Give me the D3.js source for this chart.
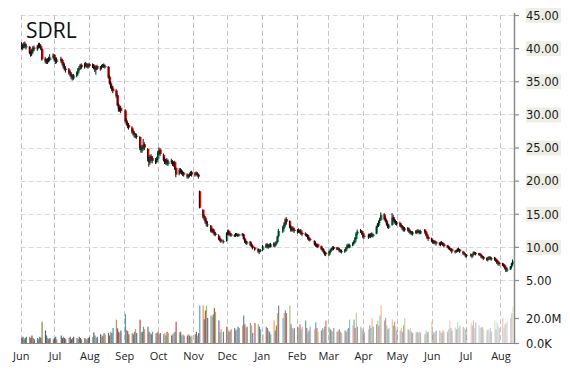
<!DOCTYPE html>
<html><head><meta charset="utf-8">
<script src="https://cdn.jsdelivr.net/npm/d3@7"></script>
<style>body{margin:0;background:#fff}svg{display:block}</style>
</head><body><svg id="c" width="570" height="370"></svg>
<script>
const ticker = "SDRL";
const firstDay = "2014-06-02", lastDay = "2015-08-12";
const holidays = ["2014-07-04","2014-09-01","2014-11-27","2014-12-25","2015-01-01","2015-01-19","2015-02-16","2015-04-03","2015-05-25","2015-07-03"];
const monthLabels = ["Jun","Jul","Aug","Sep","Oct","Nov","Dec","Jan","Feb","Mar","Apr","May","Jun","Jul","Aug"];
const priceTicks = [5,10,15,20,25,30,35,40,45];
const volumeTicks = [0,20];
const volumeTickLabels = ["0.0K","20.0M"];

// weekly groups of daily values (one inner array per trading week)
const openW = [
[40.4,40.0,40.3,40.7,40.1],[40.2,39.4,39.1,39.5,40.1],[39.8,40.2,40.6,40.3,39.9],[38.4,38.1,37.8,38.4,38.2],
[38.6,39.0,38.3,37.9],[38.4,38.2,37.8,37.3,36.9],[36.8,36.4,36.1,35.8,35.4],[35.8,36.2,36.9,36.9,37.5],
[37.1,37.7,37.5,37.1,37.6],[37.2,37.5,37.1,36.7,37.3],[36.8,37.0,37.3,37.5,37.1],[37.2,35.7,34.8,34.3,33.9],
[33.6,32.9,31.5,30.7,31.0],[30.6,29.1,28.7,28.4],[28.0,27.5,27.2,26.8,26.6],[26.6,25.0,24.5,25.0,25.5],
[24.8,23.3,22.7,23.7,23.4],[23.1,22.8,23.3,24.2,24.7],[23.9,23.2,22.7,23.1,22.5],[23.0,22.9,22.4,22.8,21.9],
[21.0,21.7,21.5,21.3,21.1],[20.9,20.5,20.7,20.9,21.3],[20.8,21.2,21.1,20.9,18.4],[15.6,14.7,14.4,13.9,13.3],
[13.2,12.3,12.7,12.3,12.0],[11.7,11.3,11.1,10.7],[10.9,12.0,12.4,12.0,11.9],[11.6,11.7,12.0,11.6,11.7],
[11.9,11.9,11.3,10.9,10.5],[10.8,10.4,10.2,9.9],[9.7,9.2,9.5,9.5],[10.0,10.4,9.9,10.3,10.0],
[10.5,10.1,10.4,10.7,11.6],[12.3,12.9,13.3,14.2],[13.9,13.1,12.5,12.9,12.6],[12.2,12.6,12.2,12.5,12.1],
[12.0,11.9,11.8,11.4,11.2],[10.9,10.5,10.1,10.4],[10.1,9.8,9.6,9.3,9.1],[8.8,9.2,9.4,9.7,10.0],
[9.6,9.9,9.7,9.5,9.2],[9.3,9.4,9.8,10.3,9.9],[10.2,10.5,10.7,11.2,12.0],[12.5,12.4,12.1,11.7],
[11.4,11.9,11.5,12.0,11.6],[12.0,13.1,13.2,13.9,14.1],[14.9,14.3,14.0,13.5,12.9],[13.3,14.5,14.1,13.9,13.7],
[13.6,13.3,13.1,12.9,12.5],[12.9,12.6,12.4,12.2,11.9],[12.3,12.1,12.5,12.4,12.0],[12.6,12.3,11.9,11.5],
[11.3,11.0,10.6,10.9,10.7],[10.6,10.3,10.7,10.6,10.4],[10.2,10.1,9.9,9.5,9.7],[9.2,9.5,9.3,9.7,9.6],
[9.3,9.1,8.9,8.6],[8.9,8.5,8.8,9.2,9.1],[9.0,9.0,8.8,8.6,8.5],[8.3,8.0,8.2,8.5,8.1],
[8.4,8.2,8.0,7.7,7.6],[7.5,7.4,7.2,6.9,6.4],[6.6,7.0,7.4]];
const highW = [
[40.9,40.7,40.9,41.0,40.6],[40.3,39.6,39.9,40.3,40.4],[40.5,40.8,40.8,40.5,40.0],[38.7,38.4,38.5,38.7,39.1],
[39.2,39.1,38.6,38.6],[38.7,38.4,37.9,37.6,37.2],[37.0,36.6,36.3,36.0,36.1],[36.5,37.0,37.3,37.6,37.7],
[37.8,37.9,37.7,37.7,37.8],[37.7,37.6,37.3,37.4,37.5],[37.3,37.5,37.6,37.7,37.5],[37.3,35.9,35.0,34.5,34.2],
[33.8,33.0,31.7,31.2,31.3],[30.8,29.4,28.9,28.7],[28.2,27.7,27.4,27.1,27.1],[26.7,25.3,25.4,26.3,25.8],
[24.9,23.6,23.9,24.0,23.7],[23.4,23.6,24.5,25.0,24.9],[24.1,23.5,23.3,23.4,23.2],[23.3,23.1,22.9,23.0,22.0],
[21.9,21.9,21.7,21.5,21.3],[21.1,21.0,21.2,21.4,21.5],[21.3,21.4,21.3,21.0,18.5],[15.7,14.9,14.6,14.1,13.8],
[13.3,12.8,12.8,12.5,12.2],[11.9,11.5,11.2,11.1],[12.2,12.6,12.6,12.2,12.1],[11.9,12.1,12.1,11.9,12.0],
[12.1,12.0,11.4,11.1,10.9],[10.9,10.6,10.3,10.0],[9.8,9.6,9.7,10.3],[10.5,10.6,10.4,10.5,10.6],
[10.7,10.7,10.9,11.7,12.7],[13.2,13.7,14.3,14.5],[14.0,13.3,13.0,13.1,12.8],[12.7,12.8,12.6,12.7,12.2],
[12.2,12.0,11.9,11.6,11.4],[11.0,10.7,10.5,10.5],[10.2,9.9,9.7,9.4,9.2],[9.4,9.7,9.9,10.1,10.1],
[10.0,10.0,9.8,9.6,9.6],[9.7,10.0,10.4,10.5,10.5],[10.7,11.0,11.5,12.2,12.6],[12.7,12.5,12.2,11.9],
[12.0,12.0,12.1,12.2,12.0],[13.2,13.6,14.0,14.4,15.2],[15.1,14.6,14.1,13.7,13.4],[15.1,14.8,14.3,14.1,13.9],
[13.8,13.5,13.3,13.1,13.0],[13.0,12.8,12.6,12.4,12.4],[12.5,12.6,12.7,12.5,12.6],[12.7,12.4,12.0,11.6],
[11.4,11.1,11.0,11.0,10.8],[10.7,10.8,10.9,10.7,10.5],[10.3,10.2,10.0,9.8,9.8],[9.5,9.6,9.8,9.9,9.7],
[9.4,9.2,9.0,8.9],[9.0,8.9,9.3,9.3,9.2],[9.1,9.1,8.9,8.7,8.6],[8.4,8.5,8.6,8.6,8.4],
[8.5,8.3,8.1,7.9,7.8],[7.6,7.5,7.3,7.0,6.8],[7.1,7.6,8.1]];
const lowW = [
[39.8,39.7,40.0,40.0,39.8],[39.1,38.7,38.8,39.3,39.6],[39.6,40.0,40.0,39.7,38.1],[37.7,37.6,37.6,37.9,38.0],
[38.4,38.0,37.6,37.7],[37.8,37.4,36.9,36.6,36.3],[36.0,35.7,35.3,35.1,35.2],[35.6,36.0,36.5,36.7,36.8],
[36.9,37.2,37.0,36.9,37.1],[37.0,36.8,36.4,36.0,36.7],[36.6,36.8,37.1,37.0,36.9],[35.4,34.5,33.9,33.5,33.2],
[32.5,31.2,30.4,30.4,30.2],[28.8,28.3,27.9,27.7],[27.1,26.8,26.5,26.4,26.3],[24.6,24.2,24.2,24.8,24.6],
[22.9,22.1,22.4,23.0,22.6],[22.5,22.6,23.1,23.9,23.7],[22.9,22.5,22.4,22.3,22.2],[22.5,22.2,22.1,21.6,20.5],
[20.8,21.1,20.9,20.7,20.6],[20.3,20.3,20.5,20.7,20.6],[20.6,20.8,20.6,20.3,15.8],[14.3,14.0,13.5,13.1,13.0],
[12.2,12.1,12.0,11.7,11.6],[11.0,10.8,10.6,10.5],[10.8,11.8,11.7,11.6,11.5],[11.5,11.5,11.6,11.5,11.6],
[11.6,11.1,10.6,10.4,10.3],[10.1,9.9,9.6,9.4],[9.1,8.9,9.2,9.4],[9.8,9.8,9.7,9.9,9.9],
[10.0,9.9,10.3,10.6,11.4],[12.1,12.7,13.1,13.4],[12.8,12.3,12.3,12.3,12.1],[12.0,12.1,12.0,11.8,11.6],
[11.6,11.5,11.1,10.9,10.8],[10.2,10.0,9.9,9.8],[9.5,9.3,9.0,8.7,8.6],[8.6,9.0,9.3,9.6,9.5],
[9.5,9.5,9.2,9.1,9.0],[9.1,9.3,9.7,9.8,9.8],[10.1,10.4,10.6,11.1,11.8],[12.1,11.8,11.3,11.2],
[11.2,11.4,11.3,11.5,11.4],[11.9,12.9,13.0,13.6,14.0],[14.0,13.7,13.2,12.8,12.7],[13.2,13.8,13.5,13.3,13.2],
[13.0,12.8,12.5,12.3,12.3],[12.3,12.1,11.9,11.8,11.7],[12.0,11.9,12.1,11.9,11.9],[12.0,11.6,11.2,10.9],
[10.7,10.5,10.4,10.4,10.2],[10.2,10.1,10.3,10.1,9.9],[9.8,9.6,9.5,9.3,9.0],[9.0,9.1,9.2,9.3,9.1],
[8.8,8.7,8.4,8.4],[8.5,8.3,8.7,8.8,8.7],[8.7,8.6,8.3,8.2,8.0],[7.9,7.8,8.1,8.0,7.9],
[7.9,7.7,7.4,7.2,7.1],[7.1,6.9,6.6,6.2,6.2],[6.5,6.8,7.2]];
const closeW = [
[40.1,40.4,40.6,40.2,40.3],[39.3,39.0,39.6,40.0,39.9],[40.3,40.5,40.2,39.9,38.3],[38.0,37.9,38.3,38.2,38.6],
[38.9,38.2,37.9,38.3],[38.1,37.7,37.2,36.9,36.7],[36.3,36.0,35.7,35.5,35.9],[36.3,36.8,37.0,37.4,37.1],
[37.6,37.4,37.2,37.5,37.3],[37.4,37.0,36.8,37.2,36.9],[37.1,37.3,37.4,37.2,37.3],[35.6,34.7,34.2,33.8,33.5],
[32.8,31.4,30.8,30.9,30.5],[29.0,28.6,28.3,28.0],[27.4,27.1,26.9,26.7,26.8],[24.9,24.6,25.1,25.4,25.0],
[23.2,22.8,23.6,23.3,23.0],[22.8,23.4,24.3,24.6,24.0],[23.1,22.8,23.0,22.6,22.9],[22.8,22.5,22.7,21.8,20.9],
[21.6,21.4,21.2,21.0,20.9],[20.6,20.8,21.0,21.2,20.9],[21.1,21.0,20.8,20.6,15.9],[14.6,14.3,13.8,13.5,13.4],
[12.4,12.6,12.2,11.9,11.8],[11.2,11.0,10.8,10.9],[12.0,12.3,11.9,11.8,11.7],[11.8,11.9,11.7,11.8,11.9],
[11.8,11.2,10.8,10.6,10.7],[10.3,10.1,9.8,9.6],[9.3,9.4,9.5,10.1],[10.3,10.0,10.2,10.1,10.4],
[10.2,10.5,10.7,11.5,12.4],[13.0,13.4,14.0,13.8],[13.0,12.6,12.8,12.5,12.4],[12.5,12.3,12.4,12.0,11.9],
[11.8,11.7,11.3,11.1,11.0],[10.4,10.2,10.3,10.0],[9.7,9.5,9.2,9.0,8.9],[9.3,9.5,9.8,9.9,9.7],
[9.8,9.6,9.4,9.3,9.4],[9.5,9.9,10.2,10.0,10.3],[10.6,10.8,11.3,12.0,12.3],[12.3,12.0,11.6,11.5],
[11.8,11.6,11.9,11.7,11.9],[13.0,13.4,13.8,14.2,14.8],[14.2,13.9,13.4,13.0,13.2],[14.4,14.0,13.8,13.6,13.5],
[13.2,13.0,12.8,12.6,12.8],[12.5,12.3,12.1,12.0,12.2],[12.2,12.4,12.3,12.1,12.4],[12.2,11.8,11.4,11.2],
[10.9,10.7,10.8,10.6,10.5],[10.4,10.6,10.5,10.3,10.1],[10.0,9.8,9.7,9.6,9.3],[9.4,9.3,9.6,9.5,9.3],
[9.0,8.9,8.7,8.8],[8.6,8.8,9.1,9.0,8.9],[8.9,8.7,8.5,8.4,8.2],[8.1,8.3,8.4,8.2,8.3],
[8.1,7.9,7.6,7.5,7.4],[7.3,7.1,6.8,6.5,6.6],[7.0,7.5,7.8]];
// volume in millions of shares
const volumeW = [
[4,5,3,4,5],[5,4,6,4,3],[4,3,5,4,17],[10,6,4,3,4],
[3,4,5,3],[6,4,5,4,3],[4,5,3,4,5],[4,3,5,4,3],
[4,3,3,4,5],[5,8.5,6,4,5],[7,5,6,8,7],[8,6,9,8,12],
[18.7,11.7,9,8,10],[23,10.4,9.6,7],[8,7,9,11,8],[18.7,8.5,9,13,11],
[13,9,8,7,9],[7.7,8,9,7,8],[7,8,6,9,8],[6,7,8,9,17],
[8.5,9,6,7,6],[6,7,6,5,6],[7,9,6,8,30],[30,19,26,30,20],
[22,21,23,28,25],[18,8.5,11,9],[13,11,9,10,11],[12,10,11,13,12],
[14,22,15,12,13],[16,14,8,16],[15,13,11,7],[13,12,10,9,7],
[18,10,14,24,30],[20,24,26,24],[30,15,12,11,12],[13,12,15,11,13],
[18,12,8.5,10,13],[11,16.5,12,9],[10,12,11,13,18],[12.5,11,10,9,12],
[9,10,11,9,8],[10,9,11,12,18.7],[14,18.7,12,24,13],[13,12,10,8.5],
[11,14,12,19.7,13],[15,18,14,22,30],[18,20,14,11,12],[19,14,17,13,10],
[10,12,9,14,20],[11,10,12,9,8],[8.5,9,8,9,8.5],[7,10,8.5,9],
[17,9,8,9,10],[10,9,8,10,9],[9,11,18,12,10],[12.5,11,16.5,12,14],
[13,12,11,12],[16.5,14,18,12,16.5],[14,12,13,12.5,11],[10,11,10,12,9],
[18,11,16.5,14,12],[20,12,15,16,18],[20,24,29]];
const volumePalette = ["#4F81BD","#C0504D","#9BBB59","#8064A2","#4BACC6","#F79646"];

const parse = d3.timeParse("%Y-%m-%d");
const hol = new Set(holidays);
const fmtKey = d3.timeFormat("%Y-%m-%d");
const dates = d3.timeDay.range(parse(firstDay), d3.timeDay.offset(parse(lastDay),1))
  .filter(d => d.getDay()!==0 && d.getDay()!==6 && !hol.has(fmtKey(d)));
const open = openW.flat(), high = highW.flat(), low = lowW.flat(), close = closeW.flat(), volume = volumeW.flat();
const n = Math.min(dates.length, open.length, high.length, low.length, close.length, volume.length);
const data = d3.range(n).map(i => ({date:dates[i], o:open[i], h:high[i], l:low[i], c:close[i], v:volume[i]}));

const svg = d3.select("#c");
const x = d3.scaleTime().domain([new Date(2014,5,1), new Date(2015,7,13)]).range([20.7, 514]);
const y = d3.scaleLinear().domain([5,45]).range([280,15]);
const yv = d3.scaleLinear().domain([0,30]).range([343,305.5]);
const months = d3.timeMonth.range(new Date(2014,5,1), new Date(2015,7,2));
const xL = x.range()[0], xR = x.range()[1];

// gridlines
svg.append("g").selectAll("line").data(priceTicks).join("line")
  .attr("x1", xL).attr("x2", xR).attr("y1", d=>Math.round(y(d))+0.5).attr("y2", d=>Math.round(y(d))+0.5)
  .attr("stroke", "#d8d8d8").attr("stroke-dasharray","5,3");
svg.append("g").selectAll("line").data(months).join("line")
  .attr("x1", d=>Math.round(x(d))+0.5).attr("x2", d=>Math.round(x(d))+0.5)
  .attr("y1", y(45)).attr("y2", yv(0))
  .attr("stroke", "#c4c4c4").attr("stroke-dasharray","5,3");

// volume bars
const t0 = data[0].date, t1 = data[n-1].date;
svg.append("g").selectAll("rect").data(data).join("rect")
  .attr("x", d=>x(d.date)-0.6).attr("width", 1.2)
  .attr("y", d=>yv(d.v)).attr("height", d=>yv(0)-yv(d.v))
  .attr("fill", (d,i)=>{
    const t = (d.date - t0)/(t1 - t0);
    let c = d3.color(volumePalette[i % volumePalette.length]);
    if (t < 0.3) c = c.darker((0.3 - t)/0.3*0.8);
    if (t > 0.42) c.opacity = 1 - 0.68*(t-0.42)/0.58;
    return c + "";
  });

// candlesticks
const cg = svg.append("g");
cg.selectAll("rect").data(data).join("rect")
  .attr("x", d=>x(d.date)-1).attr("width", 2.4)
  .attr("y", d=>y(Math.max(d.o,d.c)))
  .attr("height", d=>Math.max(1, Math.abs(y(d.o)-y(d.c))))
  .attr("fill", d=> d.c >= d.o ? "#00aa66" : "#ff0000");
cg.selectAll("line").data(data).join("line")
  .attr("x1", d=>x(d.date)-0.3).attr("x2", d=>x(d.date)-0.3)
  .attr("y1", d=>y(d.h)).attr("y2", d=>y(d.l))
  .attr("stroke", "#111").attr("stroke-width", 1);

// bottom axis
const xa = svg.append("g").attr("transform", `translate(0,${yv(0)})`)
  .call(d3.axisBottom(x).tickValues(months).tickFormat((d,i)=>monthLabels[i]).tickSize(0).tickPadding(9.5));
xa.select(".domain").remove();
xa.selectAll("text").attr("font-family","'Open Sans', sans-serif").attr("font-size","11px").attr("fill","#222");
svg.append("line").attr("x1", xL).attr("x2", xR).attr("y1", yv(0)+0.5).attr("y2", yv(0)+0.5)
  .attr("stroke","#8a8a8a").attr("stroke-width",1.2);

// right price axis
const ya = svg.append("g").attr("transform", `translate(${xR},0)`)
  .call(d3.axisRight(y).tickValues(priceTicks).tickFormat(d3.format(".2f")).tickSize(5).tickPadding(7));
ya.select(".domain").remove();
ya.selectAll(".tick line").attr("stroke","#8a8a8a").attr("stroke-width",1.2);
ya.selectAll(".tick").filter(d=>d!==5).insert("rect","text")
  .attr("x", 12).attr("y", -7.5).attr("width", 35).attr("height", 15).attr("fill","#efeee5");
ya.selectAll("text").attr("font-family","'DejaVu Sans', sans-serif").attr("font-size","11.5px").attr("fill","#1a1a1a").attr("dy","0.37em");

// right volume axis
const va = svg.append("g").attr("transform", `translate(${xR},0)`)
  .call(d3.axisRight(yv).tickValues(volumeTicks).tickFormat((d,i)=>volumeTickLabels[i]).tickSize(5).tickPadding(7));
va.select(".domain").remove();
va.selectAll(".tick line").attr("stroke","#8a8a8a").attr("stroke-width",1.2);
va.selectAll("text").attr("font-family","'DejaVu Sans', sans-serif").attr("font-size","11.5px").attr("fill","#1a1a1a").attr("dy","0.37em");

svg.append("line").attr("x1", xR+0.5).attr("x2", xR+0.5).attr("y1", y(45)-2).attr("y2", yv(0)+1)
  .attr("stroke","#8a8a8a").attr("stroke-width",1.5);

// title
svg.append("text").attr("x", 26).attr("y", 38).text(ticker)
  .attr("font-family","'Open Sans', sans-serif").attr("font-size","21px").attr("fill","#111");
</script></body></html>
